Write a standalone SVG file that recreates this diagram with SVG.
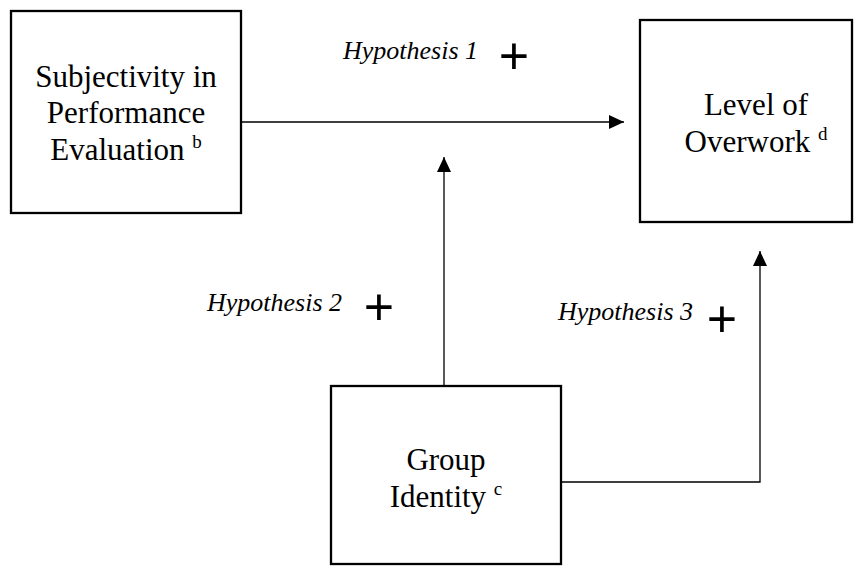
<svg xmlns="http://www.w3.org/2000/svg" width="858" height="567" viewBox="0 0 858 567">
<style>
.box{fill:#fff;stroke:#000;stroke-width:2.3}
.conn{fill:none;stroke:#000;stroke-width:1.3}
</style>
<defs>
<marker id="ah" markerWidth="15" markerHeight="14" refX="15" refY="7" orient="auto" markerUnits="userSpaceOnUse">
<path d="M0,0 L15,7 L0,14 Z" fill="#000"/>
</marker>
</defs>
<rect width="858" height="567" fill="#fff"/>
<g id="connectors">
<line class="conn" x1="241" y1="122" x2="624" y2="122" marker-end="url(#ah)"/>
<line class="conn" x1="444" y1="386" x2="444" y2="157" marker-end="url(#ah)"/>
<polyline class="conn" points="561,482 760,482 760,251" marker-end="url(#ah)"/>
</g>
<g id="node-subjectivity">
<rect class="box" x="11" y="11" width="230" height="202"/>
<text x="126" y="87" font-family="Liberation Serif" font-size="31" text-anchor="middle">Subjectivity in</text>
<text x="126" y="123" font-family="Liberation Serif" font-size="31" text-anchor="middle">Performance</text>
<text x="126" y="160" font-family="Liberation Serif" font-size="31" text-anchor="middle">Evaluation <tspan font-size="19" dy="-12">b</tspan></text>
</g>
<g id="node-overwork">
<rect class="box" x="640" y="20" width="212" height="202"/>
<text x="756" y="115" font-family="Liberation Serif" font-size="31" text-anchor="middle">Level of</text>
<text x="756" y="152" font-family="Liberation Serif" font-size="31" text-anchor="middle">Overwork <tspan font-size="19" dy="-12">d</tspan></text>
</g>
<g id="node-group">
<rect class="box" x="331" y="386" width="230" height="178"/>
<text x="446" y="470" font-family="Liberation Serif" font-size="31" text-anchor="middle">Group</text>
<text x="446" y="507" font-family="Liberation Serif" font-size="31" text-anchor="middle">Identity <tspan font-size="19" dy="-12">c</tspan></text>
</g>
<g id="labels">
<text x="343" y="59" font-family="Liberation Serif" font-style="italic" font-size="26">Hypothesis 1</text>
<text x="207" y="311" font-family="Liberation Serif" font-style="italic" font-size="26">Hypothesis 2</text>
<text x="558" y="320" font-family="Liberation Serif" font-style="italic" font-size="26">Hypothesis 3</text>
<text x="514" y="74" font-family="Liberation Sans" font-size="52" text-anchor="middle">+</text>
<text x="379" y="325" font-family="Liberation Sans" font-size="52" text-anchor="middle">+</text>
<text x="722" y="337" font-family="Liberation Sans" font-size="52" text-anchor="middle">+</text>
</g>
</svg>
